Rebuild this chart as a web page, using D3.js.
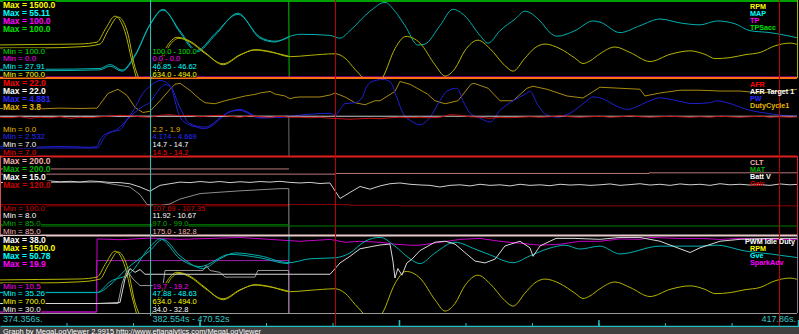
<!DOCTYPE html>
<html>
<head>
<meta charset="utf-8">
<script src="https://cdn.jsdelivr.net/npm/d3@7"></script>
<style>
  body { margin: 0; background: #000; }
  svg { display: block; }
  text { font-family: "Liberation Sans", Arial, sans-serif; }
</style>
</head>
<body>
<svg id="chart" width="799" height="334"></svg>
<script>
// ---- time window (seconds) ----
const tStart = 374.356, tEnd = 417.86;
const cursorT = 382.554;
const markerT = [392.60, 416.77];
const tickT = [377.98, 381.60, 385.22, 388.84, 392.46, 396.08, 399.70, 403.32, 406.94, 410.56, 414.19, 417.81];
const bigTickT = [385.22, 396.08, 406.94, 417.81];
const axisLabels = ["374.356s.", "382.554s - 470.52s", "417.86s."];

// shared sample times for the noisy channels
const gridT = [374.36,374.90,375.45,375.99,376.53,377.08,377.62,378.17,378.71,379.26,
  379.80,380.35,380.89,381.43,381.98,382.52,383.07,383.61,384.16,384.70,
  385.25,385.79,386.33,386.88,387.42,387.97,388.51,389.06,389.60,390.15,
  390.69,391.24,391.78,392.32,392.87,393.41,393.96,394.50,395.05,395.59,
  396.13,396.68,397.22,397.77,398.31,398.86,399.40,399.95,400.49,401.04,
  401.58,402.12,402.67,403.21,403.76,404.30,404.85,405.39,405.93,406.48,
  407.02,407.57,408.11,408.66,409.20,409.75,410.29,410.84,411.38,411.93,
  412.47,413.01,413.56,414.10,414.65,415.19,415.74,416.28,416.83,417.37,417.86];

// ---- panel 1 ----
const rpmRange = ["700.0", "1500.0"], rpmRead = ["634.0", "494.0"];
const mapRange = ["27.91", "55.11"], mapRead = ["46.85", "46.62"];
const tpRange = ["0.0", "100.0"], tpRead = ["0.0", "0.0"];
const tpsRange = ["100.0", "100.0"], tpsRead = ["100.0", "100.0"];

const rpmA = [[374.36,1008],[376.53,1008],[378.71,1020],[379.80,1049],[380.24,1192],[380.78,1336],[381.27,1192],[381.71,800],[382.14,620],[382.36,600],[382.52,634],[382.80,760],[383.07,880],[383.61,1070],[383.99,1121],[384.70,1080],[385.52,960],[386.50,830],[387.42,930],[388.24,990],[389.06,970],[390.15,915],[391.24,930],[392.60,946],[393.14,900],[393.69,780],[394.07,700],[394.61,560],[395.21,700],[395.86,1000],[396.46,1130],[397.22,1060],[398.04,830],[398.59,710],[399.13,790],[399.67,980],[400.38,1090],[401.04,1000],[401.85,820],[402.29,762],[402.94,900],[403.49,1010],[404.03,1049],[404.85,1000],[405.66,900],[406.10,843],[406.48,870],[407.02,946],[407.84,1018],[408.66,960],[409.75,864],[410.84,940],[411.93,977],[412.74,940],[413.29,895],[414.10,905],[414.92,936],[415.74,960],[416.55,1030],[417.37,1059],[417.86,1040]];
const rpmB = [[374.36,1040],[376.53,1045],[378.71,1050],[379.64,1070],[380.07,1200],[380.62,1345],[381.16,1180],[381.60,820],[382.03,560],[382.52,494],[383.07,820],[383.61,1040],[384.10,1110],[384.70,1070],[385.52,950],[386.50,840],[387.42,935],[388.24,985],[389.06,965],[390.08,920]];
const mapA = [[374.36,30.7],[377.08,30.7],[379.80,31.0],[380.35,32.4],[381.00,30.4],[381.71,35.9],[382.52,46.85],[383.23,52.3],[384.16,43.9],[385.08,37.0],[386.06,42.9],[387.31,50.9],[388.51,41.9],[389.33,40.5],[390.15,42.6],[390.69,43.3],[392.33,42.9],[392.87,41.9],[393.41,44.6],[394.50,51.6],[395.32,54.8],[395.86,51.6],[396.41,46.4],[397.11,39.4],[397.50,39.8],[398.31,46.4],[399.02,52.3],[399.67,49.9],[400.49,42.9],[400.93,40.1],[401.58,44.6],[402.40,48.8],[402.94,51.6],[403.76,48.1],[404.30,43.9],[404.68,42.6],[405.66,44.6],[406.64,48.1],[407.02,47.7],[408.11,43.9],[409.20,46.4],[410.29,48.8],[411.38,47.4],[412.47,46.7],[413.40,48.1],[414.37,47.1],[415.19,44.6],[416.28,43.9],[417.37,42.6],[417.86,41.9]];
const mapB = [[374.36,30.2],[377.08,30.2],[379.80,30.5],[380.35,31.8],[381.00,30.0],[381.71,35.5],[382.52,46.62],[383.23,52.0],[384.16,44.5],[385.08,37.5],[386.06,43.5],[387.31,50.5],[388.51,42.3],[389.33,40.8],[390.08,42.2]];
const tpA = [[374.36,0],[417.86,0]];
const tpsA = [[374.36,100],[417.86,100]];
const tpsB = [[374.36,100],[390.08,100],[390.10,0]];

// ---- panel 2 ----
const afrRange = ["7.0", "22.0"], afrRead = ["14.5", "14.2"];
const tgtRange = ["7.0", "22.0"], tgtRead = ["14.7", "14.7"];
const pwRange = ["2.532", "4.881"], pwRead = ["4.174", "4.669"];
const dutyRange = ["0.0", "3.8"], dutyRead = ["2.2", "1.9"];

const afrA = [14.5,14.4,14.6,14.3,14.5,14.4,14.6,14.3,14.5,14.4,
  14.6,14.7,14.9,14.8,14.6,14.5,14.9,15.0,14.8,14.9,
  14.6,14.8,14.9,14.7,14.5,14.8,14.6,14.5,14.7,14.5,
  14.5,14.4,14.5,14.3,14.2,14.1,14.2,14.3,14.2,14.4,
  14.5,14.4,14.5,14.4,14.5,15.0,14.9,14.6,14.5,14.3,
  14.5,14.4,14.5,14.6,14.5,14.6,14.8,14.6,14.5,14.6,
  14.7,14.5,14.6,14.8,14.6,14.5,14.6,14.7,14.6,14.5,
  14.6,14.5,14.7,14.6,14.5,14.6,14.7,14.5,14.6,14.5,14.6];
const tgtA = [[374.36,14.7],[417.86,14.7]];
const tgtB = [[374.36,14.7],[390.08,14.7],[390.10,0]];
const pwA = [[374.36,2.80],[375.99,2.77],[377.62,2.80],[379.26,2.77],[379.64,2.80],[379.80,3.01],[380.35,3.25],[380.89,3.31],[381.27,3.62],[381.71,3.86],[382.14,4.05],[382.52,4.17],[382.80,4.40],[383.07,4.60],[383.34,4.72],[383.61,4.67],[384.16,3.71],[384.70,3.46],[385.08,3.40],[385.41,3.35],[385.79,3.40],[386.33,3.65],[386.88,3.89],[387.42,3.92],[387.97,3.80],[388.51,3.68],[389.60,3.71],[390.15,3.74],[391.24,3.80],[392.33,3.83],[392.60,3.77],[392.87,3.95],[393.14,4.13],[393.69,4.16],[394.07,4.31],[394.28,4.61],[394.61,4.82],[395.21,4.88],[395.59,4.82],[395.97,4.31],[396.30,3.83],[396.84,3.56],[397.22,3.47],[397.77,3.71],[398.31,4.22],[398.70,4.52],[399.24,4.61],[399.56,4.22],[399.95,3.83],[400.49,3.68],[401.04,3.56],[401.58,3.92],[402.29,4.22],[403.05,4.46],[403.21,4.52],[403.60,4.13],[404.14,3.77],[404.68,3.71],[405.39,3.83],[406.32,4.22],[406.64,4.34],[407.02,4.31],[408.11,4.01],[408.49,3.95],[409.75,4.22],[410.29,4.31],[411.22,4.22],[412.09,4.13],[413.01,4.16],[413.40,4.22],[413.94,4.16],[415.19,3.92],[416.12,3.83],[416.83,3.77],[417.86,3.74]];
const pwB = [[374.36,2.75],[379.64,2.75],[380.07,3.10],[380.89,3.40],[381.60,3.90],[382.14,4.45],[382.52,4.67],[383.07,4.85],[383.61,4.70],[384.16,4.00],[384.70,3.50],[385.52,3.40],[386.61,3.80],[387.42,3.95],[388.51,3.70],[390.08,3.72]];
const dutyA = [[374.36,2.34],[375.45,2.36],[376.53,2.32],[377.62,2.36],[378.71,2.34],[379.64,2.36],[379.80,2.55],[380.24,3.10],[380.78,3.31],[381.27,3.00],[381.71,2.39],[382.14,2.14],[382.52,2.20],[383.07,2.73],[383.61,3.30],[383.88,3.56],[384.16,3.61],[384.70,3.25],[385.25,2.80],[385.52,2.63],[386.06,2.58],[386.61,2.73],[387.70,2.97],[388.24,3.05],[388.51,3.12],[389.06,3.20],[389.33,3.07],[389.87,2.97],[390.15,2.83],[390.42,2.90],[390.69,2.92],[391.78,2.92],[392.33,3.02],[392.60,3.12],[393.14,2.92],[393.69,2.63],[394.23,2.53],[394.77,2.73],[395.05,2.73],[395.86,3.20],[396.13,3.70],[396.68,3.56],[397.63,3.07],[398.04,2.73],[398.59,2.58],[399.29,2.73],[400.00,3.56],[400.16,3.61],[400.93,3.36],[401.58,2.73],[402.29,2.73],[403.05,3.36],[403.38,3.46],[404.14,3.31],[405.23,2.97],[406.10,2.87],[407.02,3.41],[408.11,3.36],[409.20,3.31],[409.47,2.97],[410.29,3.12],[411.38,3.26],[412.47,3.26],[413.56,3.22],[414.65,3.22],[415.74,3.12],[416.83,3.22],[417.86,3.31]];

// ---- panel 3 ----
const cltRange = ["85.0", "200.0"], cltRead = ["175.0", "182.8"];
const matRange = ["85.0", "200.0"], matRead = ["97.0", "99.0"];
const battRange = ["8.0", "15.0"], battRead = ["11.92", "10.67"];
const gairRange = ["100.0", "120.0"], gairRead = ["107.69", "107.35"];

const cltA = [[374.36,175.0],[392.60,176.0],[409.70,177.0],[417.86,177.0]];
const cltB = [[374.36,182.8],[390.09,182.8]];
const matA = [[374.36,97.0],[417.86,97.0]];
const matB = [[374.36,99.0],[390.09,99.0]];
const battA = [12.70,12.75,12.70,12.80,12.76,12.85,12.78,12.82,12.76,12.85,
  12.80,12.72,12.70,12.60,12.30,11.92,12.45,12.60,12.75,12.70,
  12.80,12.72,12.80,12.70,12.78,12.72,12.80,12.75,12.82,12.72,
  12.67,12.72,12.62,12.67,11.25,11.80,12.35,12.10,12.40,12.60,
  12.67,12.55,12.49,12.45,12.30,12.45,12.50,12.40,12.55,12.45,
  12.50,12.40,12.55,12.45,12.50,12.42,12.55,12.48,12.52,12.45,
  12.50,12.58,12.45,12.52,12.60,12.48,12.55,12.45,12.58,12.50,
  12.55,12.45,12.60,12.50,12.55,12.48,12.52,12.45,12.58,12.50,12.55];
const battB = [[374.36,12.72],[376.53,12.70],[379.80,12.75],[381.43,12.30],[381.98,11.60],[382.36,10.70],[382.52,10.67],[383.07,10.60],[383.61,10.75],[384.16,11.20],[385.25,11.70],[387.42,11.95],[389.60,12.15],[390.08,12.15],[390.10,0]];
const gairA = [[374.36,107.69],[393.40,107.50],[396.10,107.35],[417.86,107.35]];
const gairB = [[374.36,107.35],[390.09,107.35]];

// ---- panel 4 ----
const pwmRange = ["30.0", "38.0"], pwmRead = ["34.0", "32.8"];
const gveRange = ["35.26", "50.78"], gveRead = ["47.88", "48.63"];
const sparkRange = ["10.5", "19.9"], sparkRead = ["19.7", "19.2"];

const pwmA = [[374.36,30.9],[379.64,30.9],[380.89,31.0],[381.16,33.5],[381.43,34.6],[381.71,34.2],[381.98,34.5],[382.25,34.0],[392.33,34.0],[392.87,35.2],[393.41,35.9],[393.96,36.7],[394.50,36.9],[395.05,37.1],[395.59,37.2],[395.75,35.4],[395.86,33.6],[396.02,34.6],[396.24,33.9],[396.51,35.2],[396.79,35.6],[397.22,36.5],[398.04,37.4],[398.59,37.5],[399.13,37.2],[399.67,36.3],[400.22,35.4],[400.76,35.2],[401.31,35.6],[401.85,37.0],[402.67,37.5],[403.21,36.8],[403.38,35.9],[403.76,37.0],[404.63,37.8],[405.66,37.8],[407.02,37.7],[408.11,37.9],[409.20,37.9],[410.29,37.5],[411.38,36.7],[411.93,36.3],[412.47,36.8],[413.56,37.5],[414.65,37.7],[416.28,37.8],[417.86,37.8]];
const pwmB = [[374.36,30.9],[379.64,30.9],[380.78,30.9],[381.00,33.0],[381.27,34.4],[381.60,33.5],[381.98,32.8],[383.23,32.8],[383.34,34.4],[385.41,34.4],[385.60,34.9],[385.79,34.4],[386.33,34.2],[386.61,33.7],[388.24,33.7],[388.40,34.4],[390.08,34.4],[390.10,0]];
const gveA = [[374.36,39.24],[379.64,39.24],[380.35,40.83],[381.16,43.82],[382.52,47.88],[383.23,50.18],[384.16,46.8],[385.41,44.21],[386.33,46.2],[387.15,47.4],[388.51,46.8],[390.09,45.4],[391.24,46.2],[392.60,46.4],[393.41,47.4],[394.23,49.8],[395.05,50.6],[395.86,48.8],[396.68,46.2],[397.22,45.2],[398.04,47.4],[399.13,49.6],[400.22,48.2],[401.04,47.0],[402.29,45.4],[403.21,46.8],[404.30,48.4],[405.12,49.0],[405.93,48.2],[407.02,48.8],[408.11,47.2],[410.29,48.8],[412.47,48.8],[413.40,49.0],[414.92,47.8],[416.28,47.2],[417.86,46.4]];
const gveB = [[374.36,39.3],[379.64,39.3],[380.35,41.5],[381.43,43.2],[382.52,48.63],[383.07,50.3],[384.16,46.2],[385.25,44.6],[386.88,47.1],[388.51,46.4],[390.08,45.2],[390.10,60]];
const sparkA = [[374.36,10.5],[379.62,10.5],[379.64,19.6],[380.89,19.5],[382.52,19.7],[384.16,19.54],[385.79,19.66],[387.42,19.78],[389.06,19.54],[390.69,19.3],[392.33,19.54],[393.14,19.18],[393.96,19.3],[395.05,19.18],[395.86,18.94],[396.68,18.82],[397.22,18.82],[398.31,19.18],[399.40,19.54],[400.49,19.66],[401.58,19.3],[402.67,19.06],[403.76,18.82],[404.85,18.94],[405.93,19.3],[407.02,19.3],[408.11,19.6],[409.20,19.54],[409.75,19.78],[411.38,19.66],[412.47,19.66],[413.56,19.54],[414.65,19.66],[416.28,19.54],[417.86,19.54]];
const sparkB = [[374.36,10.5],[379.60,10.5],[379.62,16.9],[390.08,16.9],[390.10,0]];

const footer = "Graph by MegaLogViewer 2.9915 http://www.efianalytics.com/MegaLogViewer";

// ---- layout ----
const W = 799, H = 334, plotR = 797;
const mono = d3.curveMonotoneX, lin = d3.curveLinear, step = d3.curveStepAfter;
const onGrid = vals => vals.map((v, i) => [gridT[i], v]);

const panels = [
  {top: 0, bottom: 78, series: [
    {name: "RPM", range: rpmRange, read: rpmRead, text: "#ffff00", line: "#b4b400", logs: [rpmB, rpmA], curve: mono},
    {name: "MAP", range: mapRange, read: mapRead, text: "#00ffff", line: "#00b0b0", logs: [mapB, mapA], curve: mono},
    {name: "TP", range: tpRange, read: tpRead, text: "#ff00ff", line: "#d000d0", logs: [tpA], curve: lin},
    {name: "TPSacc", range: tpsRange, read: tpsRead, text: "#00e000", line: "#00c000", logs: [tpsB, tpsA], curve: lin}
  ]},
  {top: 78, bottom: 156, series: [
    {name: "AFR", range: afrRange, read: afrRead, text: "#ff0000", line: "#c81010", logs: [onGrid(afrA)], curve: lin},
    {name: "AFR Target 1", range: tgtRange, read: tgtRead, text: "#ffffff", line: "#c8c8c8", lineB: "#6c6c6c", logs: [tgtB, tgtA], curve: lin},
    {name: "PW", range: pwRange, read: pwRead, text: "#2828ff", line: "#2020d0", logs: [pwB, pwA], curve: mono},
    {name: "DutyCycle1", range: dutyRange, read: dutyRead, text: "#e8b800", line: "#a88a10", logs: [dutyA], curve: lin}
  ]},
  {top: 156, bottom: 235, series: [
    {name: "CLT", range: cltRange, read: cltRead, text: "#f0b0b0", line: "#b87878", logs: [cltB, cltA], curve: step},
    {name: "MAT", range: matRange, read: matRead, text: "#00b000", line: "#007c00", logs: [matB, matA], curve: lin},
    {name: "Batt V", range: battRange, read: battRead, text: "#ffffff", line: "#cfcfcf", lineB: "#8c8c8c", logs: [battB, onGrid(battA)], curve: lin},
    {name: "Gair", range: gairRange, read: gairRead, text: "#d00000", line: "#900000", logs: [gairB, gairA], curve: step}
  ]},
  {top: 235, bottom: 313, series: [
    {name: "PWM Idle Duty", range: pwmRange, read: pwmRead, text: "#ffffff", line: "#d8d8d8", lineB: "#9a9a9a", logs: [pwmB, pwmA], curve: lin},
    {name: "RPM", range: rpmRange, read: rpmRead, text: "#ffff00", line: "#b4b400", logs: [rpmB, rpmA], curve: mono},
    {name: "Gve", range: gveRange, read: gveRead, text: "#00ffff", line: "#00b0b0", logs: [gveB, gveA], curve: mono},
    {name: "SparkAdv", range: sparkRange, read: sparkRead, text: "#ff00ff", line: "#c800c8", lineB: "#a020b0", logs: [sparkB, sparkA], curve: lin}
  ]}
];

const x = d3.scaleLinear().domain([tStart, tEnd]).range([0, W]);
const svg = d3.select("#chart");
svg.append("rect").attr("width", W).attr("height", H).attr("fill", "#000");

const defs = svg.append("defs");
const traces = svg.append("g");

panels.forEach((p, pi) => {
  defs.append("clipPath").attr("id", "clip" + pi)
    .append("rect").attr("x", 0).attr("y", p.top + 1).attr("width", plotR).attr("height", p.bottom - p.top - 1);
  const g = traces.append("g").attr("clip-path", `url(#clip${pi})`);
  p.series.slice().reverse().forEach(s => {
    const lo = +s.range[0], hi = +s.range[1];
    const y = d3.scaleLinear().domain(lo < hi ? [lo, hi] : [0, hi]).range([p.bottom - 1, p.top + 1.5]);
    const line = d3.line().x(d => x(d[0])).y(d => y(d[1])).curve(s.curve);
    s.logs.forEach((data, li) => {
      const isB = s.logs.length > 1 && li === 0;
      g.append("path").datum(data)
        .attr("d", line)
        .attr("fill", "none")
        .attr("stroke", isB && s.lineB ? s.lineB : s.line)
        .attr("stroke-width", 1);
    });
  });
});

// panel borders
const border = (x1, y1, x2, y2, c, w) => svg.append("line")
  .attr("x1", x1).attr("y1", y1).attr("x2", x2).attr("y2", y2)
  .attr("stroke", c).attr("stroke-width", w || 1);
border(0, 1, plotR, 1, "#00a000", 2);
border(plotR + 0.5, 0, plotR + 0.5, 78, "#a8b000");
border(0, 78, plotR, 78, "#ff7010", 2);
border(0, 156.5, plotR, 156.5, "#e02020", 2);
border(0.5, 156, 0.5, 235, "#d05050");
border(plotR + 0.5, 156, plotR + 0.5, 235, "#d02020");
border(0, 235.5, plotR, 235.5, "#e8c8c8", 2);
border(0, 313.5, plotR, 313.5, "#9a9a9a");
border(plotR + 0.5, 235, plotR + 0.5, 313, "#8a6a9a");

// cursor and markers
svg.append("line").attr("x1", x(cursorT)).attr("x2", x(cursorT)).attr("y1", 0).attr("y2", 316)
  .attr("stroke", "#30c8c8").attr("stroke-width", 1);
markerT.forEach(t => svg.append("line").attr("x1", Math.round(x(t)) + 0.5).attr("x2", Math.round(x(t)) + 0.5)
  .attr("y1", 0).attr("y2", 326).attr("stroke", "#c00000").attr("stroke-width", 1));

// labels with black backing
const labels = svg.append("g");
function label(str, lx, ly, color, opts) {
  opts = opts || {};
  const t = labels.append("text").attr("x", lx).attr("y", ly).attr("fill", color)
    .style("font-size", (opts.size || 9) + "px")
    .style("font-weight", opts.bold ? "bold" : "normal")
    .text(str);
  if (opts.bg !== false) {
    const b = t.node().getBBox();
    labels.insert("rect", () => t.node()).attr("x", b.x).attr("y", b.y + 1.5)
      .attr("width", b.width).attr("height", b.height - 2.5).attr("fill", "#000");
  }
  return t;
}

panels.forEach(p => {
  p.series.forEach((s, i) => {
    label("Max = " + s.range[1], 3, p.top + 7.5 + i * 8, s.text, {bold: true, size: 8.5});
    const yMin = p.bottom - 1.5 - i * 7.6;
    label("Min = " + s.range[0], 3, yMin, s.text, {size: 8});
    label(s.read[0] + " - " + s.read[1], x(cursorT) + 2, yMin, s.text, {size: 7.5});
    const lg = label(s.name, 750, p.top + 8.5 + i * 7.2, s.text, {bold: true, size: 7.2, bg: false});
    const wd = lg.node().getComputedTextLength();
    if (750 + wd > 795) lg.attr("x", 795 - wd);
  });
});

// time axis
const axisY = 326;
const axG = svg.append("g").attr("transform", `translate(0,${axisY})`);
axG.call(d3.axisTop(x).tickValues(tickT).tickSize(3).tickSizeOuter(0).tickFormat(""));
axG.select(".domain").attr("stroke", "#20c0c0").attr("stroke-width", 1.5);
axG.selectAll(".tick line").attr("stroke", "#20c0c0");
const bigG = svg.append("g").attr("transform", `translate(0,${axisY})`);
bigG.call(d3.axisTop(x).tickValues(bigTickT).tickSize(6).tickSizeOuter(0).tickFormat(""));
bigG.select(".domain").remove();
bigG.selectAll(".tick line").attr("stroke", "#20c0c0").attr("stroke-width", 1.5);

const axCol = "#30c8c8";
svg.append("text").attr("x", 3).attr("y", 322).attr("fill", axCol).style("font-size", "9px").text(axisLabels[0]);
svg.append("text").attr("x", x(cursorT) + 2).attr("y", 322).attr("fill", axCol).style("font-size", "9px").text(axisLabels[1]);
svg.append("text").attr("x", 796).attr("y", 322).attr("text-anchor", "end").attr("fill", axCol).style("font-size", "9px").text(axisLabels[2]);

// footer bar
svg.append("rect").attr("x", 0).attr("y", 327).attr("width", W).attr("height", 7).attr("fill", "#404040");
svg.append("text").attr("x", 3).attr("y", 333.5).attr("fill", "#ffffff").style("font-size", "8px")
  .attr("textLength", 258).attr("lengthAdjust", "spacingAndGlyphs").text(footer);
</script>
</body>
</html>
